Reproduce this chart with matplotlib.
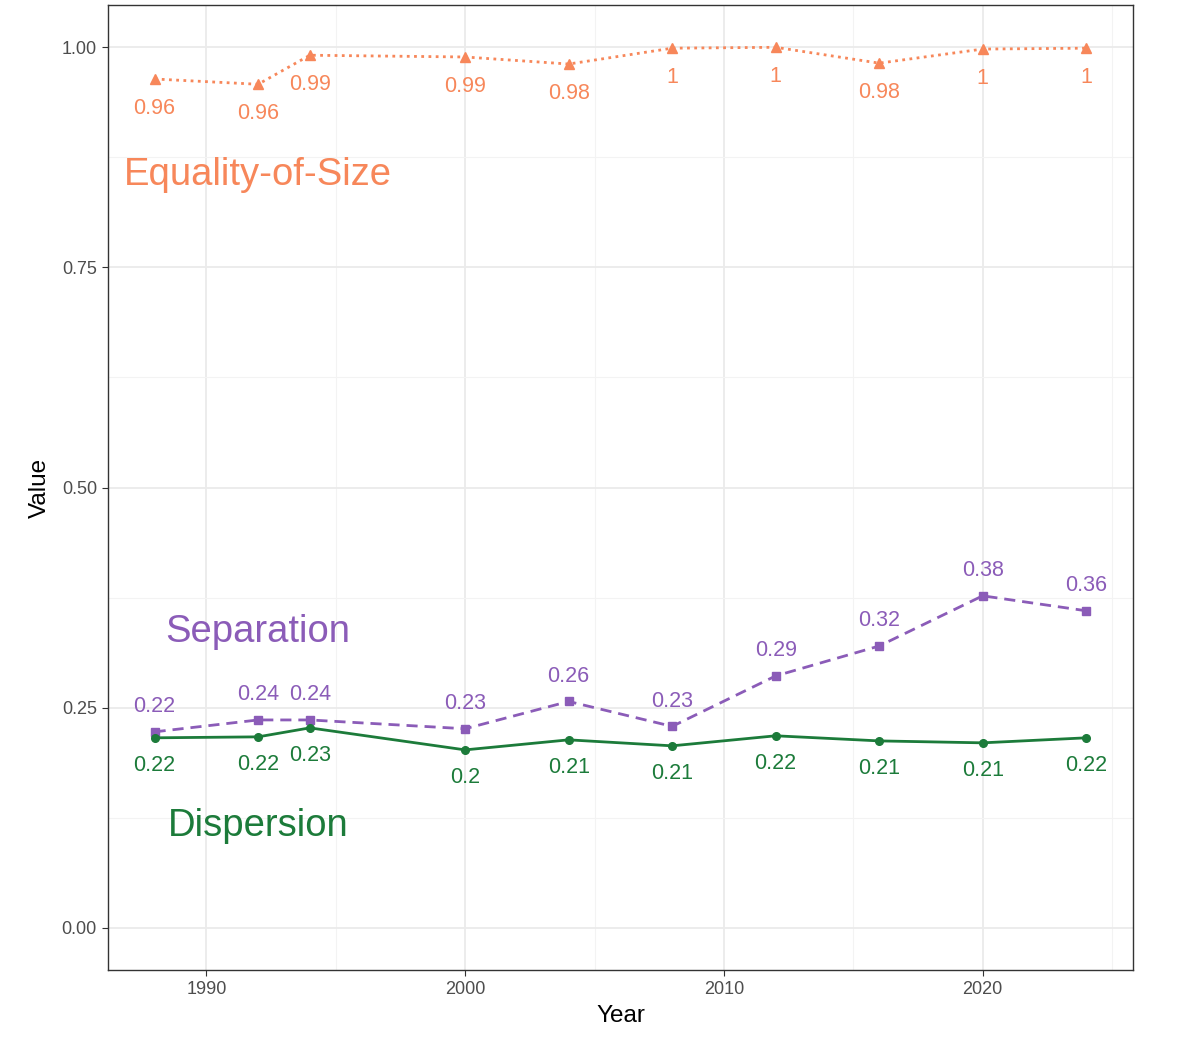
import numpy as np
import matplotlib.pyplot as plt
from matplotlib.ticker import MultipleLocator

plt.rcParams['font.family'] = ['Liberation Sans', 'DejaVu Sans']

years = [1988, 1992, 1994, 2000, 2004, 2008, 2012, 2016, 2020, 2024]
equality = [0.964, 0.958, 0.991, 0.989, 0.981, 0.999, 1.000, 0.982, 0.998, 0.999]
separation = [0.2225, 0.236, 0.236, 0.226, 0.257, 0.2287, 0.286, 0.320, 0.377, 0.360]
dispersion = [0.2157, 0.2168, 0.227, 0.202, 0.2134, 0.2066, 0.218, 0.2122, 0.210, 0.2157]

c_eq = '#F7875A'
c_sep = '#8B5CB8'
c_dis = '#1C7B3A'


def lab(v):
    return f"{round(v, 2):g}"


fig = plt.figure(figsize=(12, 10.5), dpi=100)
ax = fig.add_axes([0.09, 0.0762, 0.854, 0.919])

# gridlines like theme_bw
ax.xaxis.set_major_locator(MultipleLocator(10))
ax.xaxis.set_minor_locator(MultipleLocator(5))
ax.yaxis.set_major_locator(MultipleLocator(0.25))
ax.yaxis.set_minor_locator(MultipleLocator(0.125))
ax.grid(which='major', color='#EBEBEB', linewidth=1.3)
ax.grid(which='minor', color='#F3F3F3', linewidth=0.8)
ax.set_axisbelow(True)

ax.plot(years, equality, color=c_eq, linestyle=(0, (1, 1.6)), linewidth=2,
        marker='^', markersize=7)
ax.plot(years, separation, color=c_sep, linestyle=(0, (4, 2.5)), linewidth=2,
        marker='s', markersize=5.5)
ax.plot(years, dispersion, color=c_dis, linestyle='-', linewidth=2,
        marker='o', markersize=5.5)

for x, v in zip(years, equality):
    ax.annotate(lab(v), (x, v), xytext=(0, -21), textcoords='offset points',
                ha='center', va='center', fontsize=15.5, color=c_eq)
for x, v in zip(years, separation):
    ax.annotate(lab(v), (x, v), xytext=(0, 18), textcoords='offset points',
                ha='center', va='center', fontsize=15.5, color=c_sep)
for x, v in zip(years, dispersion):
    ax.annotate(lab(v), (x, v), xytext=(0, -20), textcoords='offset points',
                ha='center', va='center', fontsize=15.5, color=c_dis)

ax.text(1992, 0.855, 'Equality-of-Size', color=c_eq, fontsize=27.5,
        ha='center', va='center')
ax.text(1992, 0.336, 'Separation', color=c_sep, fontsize=27.5,
        ha='center', va='center')
ax.text(1992, 0.116, 'Dispersion', color=c_dis, fontsize=27.5,
        ha='center', va='center')

ax.set_xlim(1986.2, 2025.8)
ax.set_ylim(-0.048, 1.048)
ax.set_yticks([0, 0.25, 0.5, 0.75, 1.0])
ax.set_yticklabels(['0.00', '0.25', '0.50', '0.75', '1.00'])

for s in ax.spines.values():
    s.set_color('#333333')
    s.set_linewidth(1)
ax.tick_params(which='major', length=4, color='#333333', labelsize=13,
               labelcolor='#4D4D4D', pad=4)
ax.tick_params(which='minor', length=0)

ax.set_xlabel('Year', fontsize=17.5, labelpad=5)
ax.set_ylabel('Value', fontsize=17.5, labelpad=8)

fig.savefig('out.png', dpi=100)
